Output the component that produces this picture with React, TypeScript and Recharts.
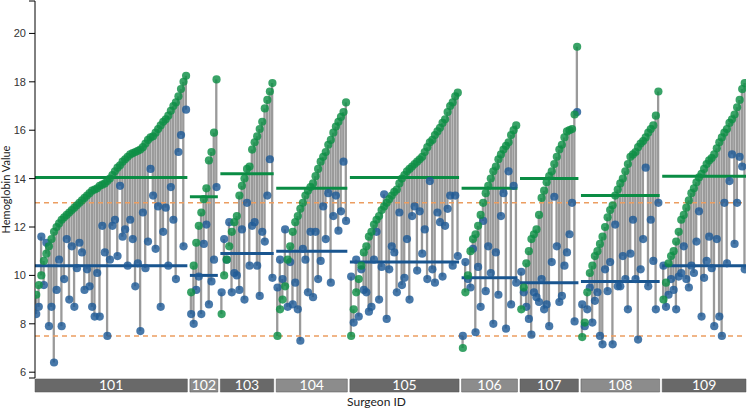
import React from 'react';
import {
  ComposedChart,
  XAxis,
  YAxis,
  Bar,
  Scatter,
  ReferenceLine,
  ReferenceArea,
  Label,
} from 'recharts';

// surgeon groups, in order along the x axis
const surgeonIds = ['101', '102', '103', '104', '105', '106', '107', '108', '109'];

// green = sorted hemoglobin (post), blue = paired value (pre), one pair per patient
const g101 = [
  9.2, 9.6, 10.0, 10.6, 10.9, 11.2, 11.5, 11.8, 12.0, 12.15,
  12.3, 12.4, 12.5, 12.6, 12.7, 12.8, 12.9, 13.0, 13.1, 13.2,
  13.3, 13.4, 13.5, 13.55, 13.6, 13.7, 13.75, 13.8, 13.9, 14.0,
  14.15, 14.3, 14.45, 14.55, 14.7, 14.8, 14.9, 15.0, 15.05, 15.1,
  15.15, 15.2, 15.3, 15.45, 15.6, 15.7, 15.75, 15.9, 16.05, 16.2,
  16.35, 16.45, 16.6, 16.8, 17.0, 17.15, 17.4, 17.7, 18.0, 18.25,
];
const b101 = [
  8.4, 8.7, 11.6, 9.6, 11.35, 7.9, 8.7, 6.4, 9.4, 10.65,
  7.9, 9.85, 11.5, 9.0, 11.2, 8.7, 10.3, 11.35, 10.95, 9.4,
  10.25, 9.55, 8.7, 8.3, 10.1, 8.3, 12.05, 10.95, 7.5, 10.65,
  12.05, 12.3, 10.8, 13.7, 11.6, 11.9, 10.4, 12.3, 11.5, 9.55,
  10.5, 7.7, 12.6, 10.3, 11.4, 14.4, 13.3, 11.1, 12.85, 8.7,
  11.8, 12.8, 10.4, 13.65, 12.3, 9.85, 15.1, 15.8, 11.2, 16.85,
];
const g102 = [9.3, 10.4, 11.35, 12.05, 12.6, 13.15, 13.6, 14.75, 15.1, 15.9, 18.1];
const b102 = [8.4, 8.0, 9.4, 9.95, 8.4, 11.3, 12.1, 8.8, 9.75, 10.65, 13.65];
const g103 = [
  8.4, 10.0, 10.65, 11.2, 11.8, 12.2, 12.45, 13.3, 13.7, 14.0, 14.4,
  14.5, 15.2, 15.5, 15.75, 16.05, 16.35, 16.9, 17.25, 17.6, 17.95,
];
const b103 = [
  9.3, 11.5, 10.65, 12.2, 9.3, 10.1, 10.0, 9.4, 11.9, 9.0, 13.0,
  10.4, 12.05, 12.2, 10.4, 9.15, 11.8, 11.4, 13.3, 14.8, 9.9,
];
const g104 = [
  7.5, 8.6, 9.0, 9.55, 10.65, 11.2, 11.8, 12.2, 12.45, 12.75, 13.0, 13.3, 13.5, 13.65,
  13.8, 14.1, 14.4, 14.7, 14.9, 15.1, 15.4, 15.6, 15.9, 16.15, 16.35, 16.55, 16.75, 17.15,
];
const b104 = [
  9.5, 10.65, 9.85, 11.9, 8.7, 10.55, 8.8, 9.7, 8.6, 7.3, 11.1, 10.65, 9.3, 11.8,
  9.1, 11.8, 9.85, 10.6, 12.85, 11.5, 13.4, 9.7, 12.45, 13.3, 11.85, 12.65, 14.7, 12.25,
];
const g105 = [
  7.5, 8.6, 9.3, 9.85, 10.4, 10.95, 11.2, 11.6, 11.8, 12.1,
  12.3, 12.45, 12.7, 12.85, 13.0, 13.15, 13.3, 13.45, 13.55, 13.8,
  14.0, 14.15, 14.3, 14.4, 14.5, 14.6, 14.7, 14.8, 14.9, 15.1,
  15.3, 15.5, 15.6, 15.8, 15.95, 16.1, 16.3, 16.45, 16.75, 17.0,
  17.15, 17.4, 17.55,
];
const b105 = [
  9.95, 8.05, 10.65, 8.3, 10.25, 9.4, 9.3, 8.5, 8.7, 10.65,
  11.8, 9.0, 10.35, 13.35, 8.2, 10.25, 11.2, 10.95, 9.3, 12.6,
  9.6, 9.9, 11.5, 9.0, 12.45, 12.85, 10.2, 12.65, 10.9, 11.9,
  9.85, 13.9, 10.25, 9.7, 12.6, 12.2, 9.95, 12.05, 12.75, 13.3,
  10.4, 13.3, 10.8,
];
const g106 = [
  7.0, 9.3, 10.0, 11.0, 11.5, 11.7, 12.05, 12.5, 13.0, 13.4, 13.7,
  14.0, 14.3, 14.5, 14.8, 15.0, 15.2, 15.35, 15.5, 15.8, 16.0, 16.2,
];
const b106 = [
  7.5, 10.55, 9.85, 9.5, 11.1, 7.65, 10.35, 8.7, 12.25, 9.35, 11.2,
  10.1, 8.0, 10.95, 9.2, 12.45, 13.4, 7.8, 14.3, 8.8, 13.7, 9.7,
];
const g107 = [
  8.6, 9.5, 10.5, 11.0, 11.5, 11.7, 11.9, 12.5, 13.2, 13.5, 13.85, 14.1,
  14.3, 14.6, 14.9, 15.2, 15.4, 15.7, 15.95, 16.0, 16.05, 16.65, 19.45,
];
const b107 = [
  10.15, 9.3, 8.7, 8.2, 7.55, 9.3, 9.1, 8.9, 9.85, 8.6, 8.8, 7.9,
  10.55, 13.25, 11.2, 8.9, 9.15, 10.4, 10.95, 11.7, 13.0, 8.1, 16.75,
];
const g108 = [
  7.45, 8.05, 9.3, 10.1, 10.4, 10.8, 11.0, 11.3, 11.6, 12.0, 12.4,
  12.7, 12.9, 13.3, 13.55, 13.8, 14.0, 14.3, 14.6, 14.9, 15.0,
  15.1, 15.3, 15.45, 15.55, 15.7, 15.9, 16.05, 16.2, 16.6, 17.6,
];
const b108 = [
  8.8, 7.9, 8.6, 9.5, 8.05, 8.95, 9.3, 7.5, 7.15, 10.25, 9.35,
  10.55, 7.15, 12.1, 9.55, 9.55, 10.8, 9.85, 8.6, 10.9, 12.3,
  9.85, 7.35, 10.25, 11.5, 14.45, 9.55, 12.3, 10.6, 8.6, 13.0,
];
const g109 = [
  9.0, 9.7, 10.5, 10.8, 11.0, 11.4, 11.8, 12.3, 12.5, 12.8, 13.1,
  13.4, 13.6, 13.85, 14.05, 14.2, 14.4, 14.6, 14.75, 14.85, 15.0, 15.25,
  15.5, 15.7, 15.9, 16.05, 16.3, 16.45, 16.65, 16.95, 17.25, 17.7, 17.95,
];
const b109 = [
  10.4, 8.7, 9.2, 9.85, 9.4, 8.6, 9.95, 10.1, 11.2, 9.85, 9.5,
  10.4, 10.1, 11.4, 12.65, 8.3, 9.9, 10.6, 11.6, 10.3, 7.9, 11.5,
  8.3, 7.5, 13.0, 10.5, 13.9, 15.0, 11.3, 13.0, 14.9, 14.5, 10.25,
];

const greenSeries = [g101, g102, g103, g104, g105, g106, g107, g108, g109];
const blueSeries = [b101, b102, b103, b104, b105, b106, b107, b108, b109];

// group means, as drawn on the chart
const greenMeans = [14.05, 13.25, 14.2, 13.6, 14.05, 13.6, 14.0, 13.3, 14.1];
const blueMeans = [10.4, 10.0, 10.9, 11.0, 10.55, 9.9, 9.7, 9.75, 10.4];

const limitLines = [13, 7.5];
const yTicks = [6, 8, 10, 12, 14, 16, 18, 20];
const yDomain: [number, number] = [5.76, 21.34];

const GREEN = '#0e8f45';
const BLUE = '#1f5a96';
const FONT = 'Lato, "Liberation Sans", Arial, sans-serif';

// one empty slot between surgeons
let cursor = 0;
const groups = surgeonIds.map((id, s) => {
  const start = cursor;
  const n = greenSeries[s].length;
  cursor += n + 1;
  return { id, start, end: start + n - 1, shade: s % 2 === 0 ? '#696969' : '#8c8c8c' };
});
const lastPos = cursor - 2;

const rows = groups.flatMap((g, s) =>
  greenSeries[s].map((gv, i) => {
    const bv = blueSeries[s][i];
    return { pos: g.start + i, post: gv, pre: bv, span: [Math.min(gv, bv), Math.max(gv, bv)] };
  })
);

const YTick = (props: any) => {
  const { x, y, payload } = props;
  if (!yTicks.includes(payload.value)) return <g />;
  return (
    <text x={x} y={y} dy={4} textAnchor="end" fontSize={11} fill="#333" fontFamily={'"Liberation Sans", Arial, sans-serif'}>
      {payload.value}
    </text>
  );
};

const dot = (color: string) => (p: any) =>
  p.cx == null || p.cy == null ? <g /> : <circle cx={p.cx} cy={p.cy} r={4.1} fill={color} fillOpacity={0.82} />;

// thin gray stalk joining the two values of one patient
const stalk = (p: any) => {
  const { x, y, width, height } = p;
  if (x == null || y == null || !height) return <g />;
  const cx = x + width / 2;
  return <rect x={cx - 1.15} y={y} width={2.3} height={height} fill="#9a9a9a" />;
};

export default function App() {
  return (
    <div style={{ position: 'absolute', left: 0, top: 0 }}>
      <ComposedChart
        width={748}
        height={410}
        data={rows}
        margin={{ top: 1, right: 2, bottom: 0, left: 0 }}
        style={{ fontFamily: FONT }}
      >
        <XAxis
          type="number"
          dataKey="pos"
          domain={[-0.5, lastPos + 0.5]}
          allowDataOverflow
          height={32}
          axisLine={false}
          tickLine={false}
          tick={false}
        >
          <Label value="Surgeon ID" position="insideBottom" offset={4} dx={-14} fontSize={12} fill="#222" />
        </XAxis>
        <YAxis
          type="number"
          domain={yDomain}
          allowDataOverflow
          ticks={[yDomain[0], ...yTicks, yDomain[1]]}
          interval={0}
          width={35}
          tickSize={6}
          tickMargin={3}
          stroke="#000"
          tick={<YTick />}
        >
          <Label
            value="Hemoglobin Value"
            angle={-90}
            position="insideLeft"
            offset={6}
            fontSize={11}
            fill="#222"
            style={{ textAnchor: 'middle' }}
          />
        </YAxis>

        <Bar dataKey="span" barSize={2} shape={stalk} isAnimationActive={false} />

        {limitLines.map((v) => (
          <ReferenceLine key={v} y={v} stroke="#ec9d60" strokeWidth={1.5} strokeDasharray="5 4" />
        ))}

        <Scatter dataKey="pre" shape={dot(BLUE)} isAnimationActive={false} />
        <Scatter dataKey="post" shape={dot(GREEN)} isAnimationActive={false} />

        {groups.map((g, s) => (
          <ReferenceLine
            key={'gm' + g.id}
            segment={[{ x: g.start - 0.5, y: greenMeans[s] }, { x: g.end + 0.5, y: greenMeans[s] }]}
            stroke="#0a8c44"
            strokeWidth={3}
          />
        ))}
        {groups.map((g, s) => (
          <ReferenceLine
            key={'bm' + g.id}
            segment={[{ x: g.start - 0.5, y: blueMeans[s] }, { x: g.end + 0.5, y: blueMeans[s] }]}
            stroke="#19558f"
            strokeWidth={3}
          />
        ))}

        {groups.map((g) => (
          <ReferenceArea
            key={'strip' + g.id}
            x1={g.start - 0.5}
            x2={g.end + 0.5}
            y1={5.18}
            y2={5.72}
            ifOverflow="visible"
            fill={g.shade}
            fillOpacity={1}
            stroke="#555"
            strokeWidth={0.5}
            label={{ value: g.id, position: 'center', fill: '#fff', fontSize: 14, fontFamily: FONT }}
          />
        ))}
      </ComposedChart>
    </div>
  );
}
